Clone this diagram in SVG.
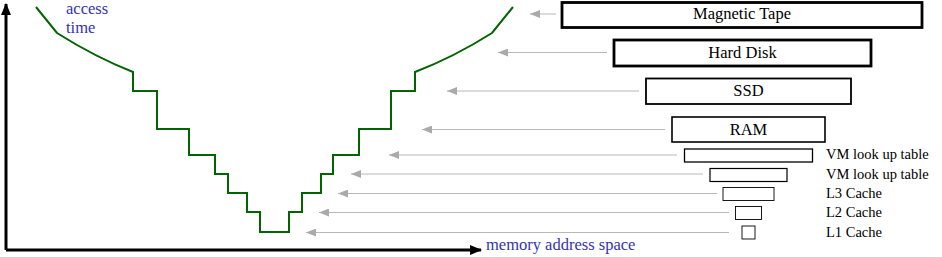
<svg xmlns="http://www.w3.org/2000/svg" width="942" height="257" viewBox="0 0 942 257">
<defs>
<marker id="ah" viewBox="0 0 12 10" markerWidth="12" markerHeight="10" refX="11" refY="5" orient="auto" markerUnits="userSpaceOnUse"><path d="M0,0 L12,5 L0,10 z" fill="#000"/></marker>
<marker id="gh" viewBox="0 0 10 8" markerWidth="10" markerHeight="8" refX="10" refY="4" orient="auto" markerUnits="userSpaceOnUse"><path d="M0,0 L10,4 L0,8 z" fill="#aaaaaa"/></marker>
</defs>
<style>
.ax{stroke:#000;stroke-width:3;fill:none}
.curve{stroke:#006400;stroke-width:2;fill:none;stroke-linejoin:miter}
text{font-family:'Liberation Serif','Times New Roman',serif;font-size:14.5px}
.lbl{fill:#000}
.big{font-size:16.5px}
.blue{fill:#3333b3;font-size:16.5px}
.box{fill:#fff;stroke:#000}
.ga{stroke:#b8b8b8;stroke-width:1;fill:none}
</style>
<g id="axes">
<line class="ax" x1="6" y1="250" x2="6" y2="4" marker-end="url(#ah)"/>
<line class="ax" x1="6" y1="250" x2="481" y2="250" marker-end="url(#ah)"/>
<text class="blue" x="66" y="14" font-family="Liberation Serif, serif">access</text>
<text class="blue" x="66" y="32.5" font-family="Liberation Serif, serif">time</text>
<text class="blue" x="486" y="249.5" font-family="Liberation Serif, serif">memory address space</text>
</g>
<g id="curve">
<path class="curve" d="M36,7 L57,33 Q95,57 133,72 V91 H157 V129 H189 V155 H215 V174 H228 V193 H247 V212 H260 V232 H289 V212 H302 V193 H321 V174 H333 V155 H359 V129 H391 V91 H415 V72 Q454,57 492,33 L513,7"/>
</g>
<g id="connectors">
<line class="ga" x1="556" y1="14" x2="530" y2="14" marker-end="url(#gh)"/>
<line class="ga" x1="607" y1="52.5" x2="498" y2="52.5" marker-end="url(#gh)"/>
<line class="ga" x1="639" y1="91" x2="447" y2="91" marker-end="url(#gh)"/>
<line class="ga" x1="665" y1="129.5" x2="422" y2="129.5" marker-end="url(#gh)"/>
<line class="ga" x1="677" y1="155" x2="389" y2="155" marker-end="url(#gh)"/>
<line class="ga" x1="703" y1="174" x2="351" y2="174" marker-end="url(#gh)"/>
<line class="ga" x1="717" y1="193.5" x2="338" y2="193.5" marker-end="url(#gh)"/>
<line class="ga" x1="729" y1="212.5" x2="319" y2="212.5" marker-end="url(#gh)"/>
<line class="ga" x1="729" y1="232.5" x2="306" y2="232.5" marker-end="url(#gh)"/>
</g>
<g id="tape"><rect class="box" x="562" y="2.5" width="360" height="25" stroke-width="2.8"/><text class="lbl big" x="742" y="18.5" text-anchor="middle" font-family="Liberation Serif, serif">Magnetic Tape</text></g>
<g id="hdd"><rect class="box" x="614" y="40" width="257" height="26" stroke-width="2.8"/><text class="lbl big" x="742.5" y="57.5" text-anchor="middle" font-family="Liberation Serif, serif">Hard Disk</text></g>
<g id="ssd"><rect class="box" x="646" y="78.5" width="205" height="25.5" stroke-width="1.8"/><text class="lbl big" x="748.5" y="96" text-anchor="middle" font-family="Liberation Serif, serif">SSD</text></g>
<g id="ram"><rect class="box" x="672" y="117" width="153" height="25" stroke-width="1.6"/><text class="lbl big" x="748.5" y="135" text-anchor="middle" font-family="Liberation Serif, serif">RAM</text></g>
<g id="vm1"><rect class="box" x="684.5" y="149" width="128" height="13" stroke-width="1.3"/><text class="lbl" x="826" y="159" font-family="Liberation Serif, serif">VM look up table</text></g>
<g id="vm2"><rect class="box" x="710" y="168.5" width="77" height="13" stroke-width="1.2"/><text class="lbl" x="826" y="178.5" font-family="Liberation Serif, serif">VM look up table</text></g>
<g id="l3"><rect class="box" x="723" y="187.5" width="51" height="13" stroke-width="0.9" stroke="#333"/><text class="lbl" x="826" y="197.7" font-family="Liberation Serif, serif">L3 Cache</text></g>
<g id="l2"><rect class="box" x="735.5" y="206.5" width="26" height="13" stroke-width="0.9" stroke="#333"/><text class="lbl" x="826" y="217" font-family="Liberation Serif, serif">L2 Cache</text></g>
<g id="l1"><rect class="box" x="742" y="226" width="13" height="13" stroke-width="0.9" stroke="#333"/><text class="lbl" x="826" y="236.7" font-family="Liberation Serif, serif">L1 Cache</text></g>
</svg>
